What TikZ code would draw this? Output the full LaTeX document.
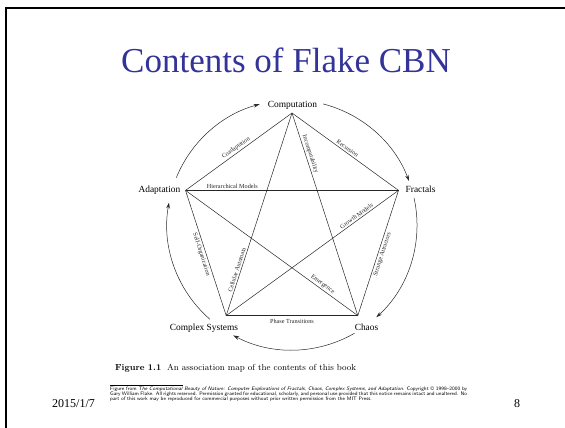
\documentclass[tikz,border=0pt]{standalone}
\usepackage{fontspec}
\newfontfamily\timesf{Liberation Serif}
\usetikzlibrary{arrows.meta}
\definecolor{titleblue}{RGB}{51,51,153}
\begin{document}
\begin{tikzpicture}[x=1pt,y=1pt,
  vlabel/.style={font=\timesf\fontsize{9.4}{10}\selectfont, inner sep=0pt},
  elabel/.style={font=\timesf\fontsize{6.2}{7}\selectfont, inner sep=1.6pt, sloped},
  edge/.style={line width=0.5pt, black!85},
  cyc/.style={line width=0.5pt, black!85, -{Stealth[length=6pt,width=3.6pt]}}]
\useasboundingbox (0,0) rectangle (565,428);
% frame
\draw[line width=2.3pt] (6.2,0) -- (6.2,420.2) -- (565,420.2);
% title
\node[font=\timesf\fontsize{35}{40}\selectfont, text=titleblue, anchor=base, inner sep=0pt] (title) at (286,355) {Contents of Flake CBN};
% pentagram vertices
\coordinate (O) at (292,203);
\coordinate (vC) at (292,315);
\coordinate (vA) at (185.5,237.6);
\coordinate (vF) at (398.5,237.6);
\coordinate (vCS) at (226.2,112.4);
\coordinate (vCh) at (357.8,112.4);
% vertex labels
\node[vlabel, anchor=base] (comp) at (292.5,320) {Computation};
\node[vlabel, anchor=base east] (adapt) at (180.5,235) {Adaptation};
\node[vlabel, anchor=base west] (fract) at (405.5,235) {Fractals};
\node[vlabel, anchor=base] (cs) at (204,97.5) {Complex Systems};
\node[vlabel, anchor=base] (chaos) at (366.5,97.5) {Chaos};
% pentagon sides
\draw[edge] (vA) -- node[elabel, above] {Coadaptation} (vC);
\draw[edge] (vC) -- node[elabel, above] {Recursion} (vF);
\draw[edge] (vCh) -- node[elabel, below] {Strange Attractors} (vF);
\draw[edge] (vCS) -- node[elabel, below, inner sep=3pt] {Phase Transitions} (vCh);
\draw[edge] (vA) -- node[elabel, below] {Self-Organization} (vCS);
% star diagonals
\draw[edge] (vA) -- node[elabel, above, pos=0.22] {Hierarchical Models} (vF);
\draw[edge] (vC) -- node[elabel, above, pos=0.21] {Incomputability} (vCh);
\draw[edge] (vCS) -- node[elabel, above, pos=0.22] {Cellular Automata} (vC);
\draw[edge] (vCS) -- node[elabel, above, pos=0.77] {Growth Models} (vF);
\draw[edge] (vA) -- node[elabel, above, pos=0.78] {Emergence} (vCh);
% outer cycle arrows
\draw[cyc] ([shift={(157.7:125)}]O) arc[start angle=157.7, end angle=105, radius=125];
\draw[cyc] ([shift={(75.6:125)}]O) arc[start angle=75.6, end angle=20.6, radius=125];
\draw[cyc] ([shift={(12.5:125)}]O) arc[start angle=12.5, end angle=-47.6, radius=125];
\draw[cyc] ([shift={(-60:125)}]O) arc[start angle=-60, end angle=-118, radius=125];
\draw[cyc] ([shift={(-131:125)}]O) arc[start angle=-131, end angle=-190.3, radius=125];
% caption
\node[anchor=base west, inner sep=0pt, font=\fontsize{8.75}{10}\selectfont\bfseries] (figno) at (115,57) {Figure 1.1};
\node[anchor=base west, inner sep=0pt, font=\fontsize{8.75}{10}\selectfont] (cap) at (167,57) {An association map of the contents of this book};
% footnote
\draw[line width=0.4pt] (110,43) -- (183,43);
\node[anchor=north west, inner sep=0pt] (fn) at (110,41.5) {\parbox{357pt}{\fontsize{5.1}{5.1}\selectfont\sffamily\hyphenpenalty=10000
Figure from \textit{The Computational Beauty of Nature: Computer Explorations of Fractals, Chaos, Complex Systems, and Adaptation}. Copyright \textcopyright{} 1998--2000 by\linebreak
Gary William Flake. All rights reserved. Permission granted for educational, scholarly, and personal use provided that this notice remains intact and unaltered. No\linebreak
part of this work may be reproduced for commercial purposes without prior written permission from the MIT Press.}};
% date and page
\node[font=\timesf\fontsize{12}{14}\selectfont, anchor=base, inner sep=0pt] (date) at (73.5,20) {2015/1/7};
\node[font=\timesf\fontsize{12}{14}\selectfont, anchor=base, inner sep=0pt] (page) at (517,20) {8};
\end{tikzpicture}
\end{document}
